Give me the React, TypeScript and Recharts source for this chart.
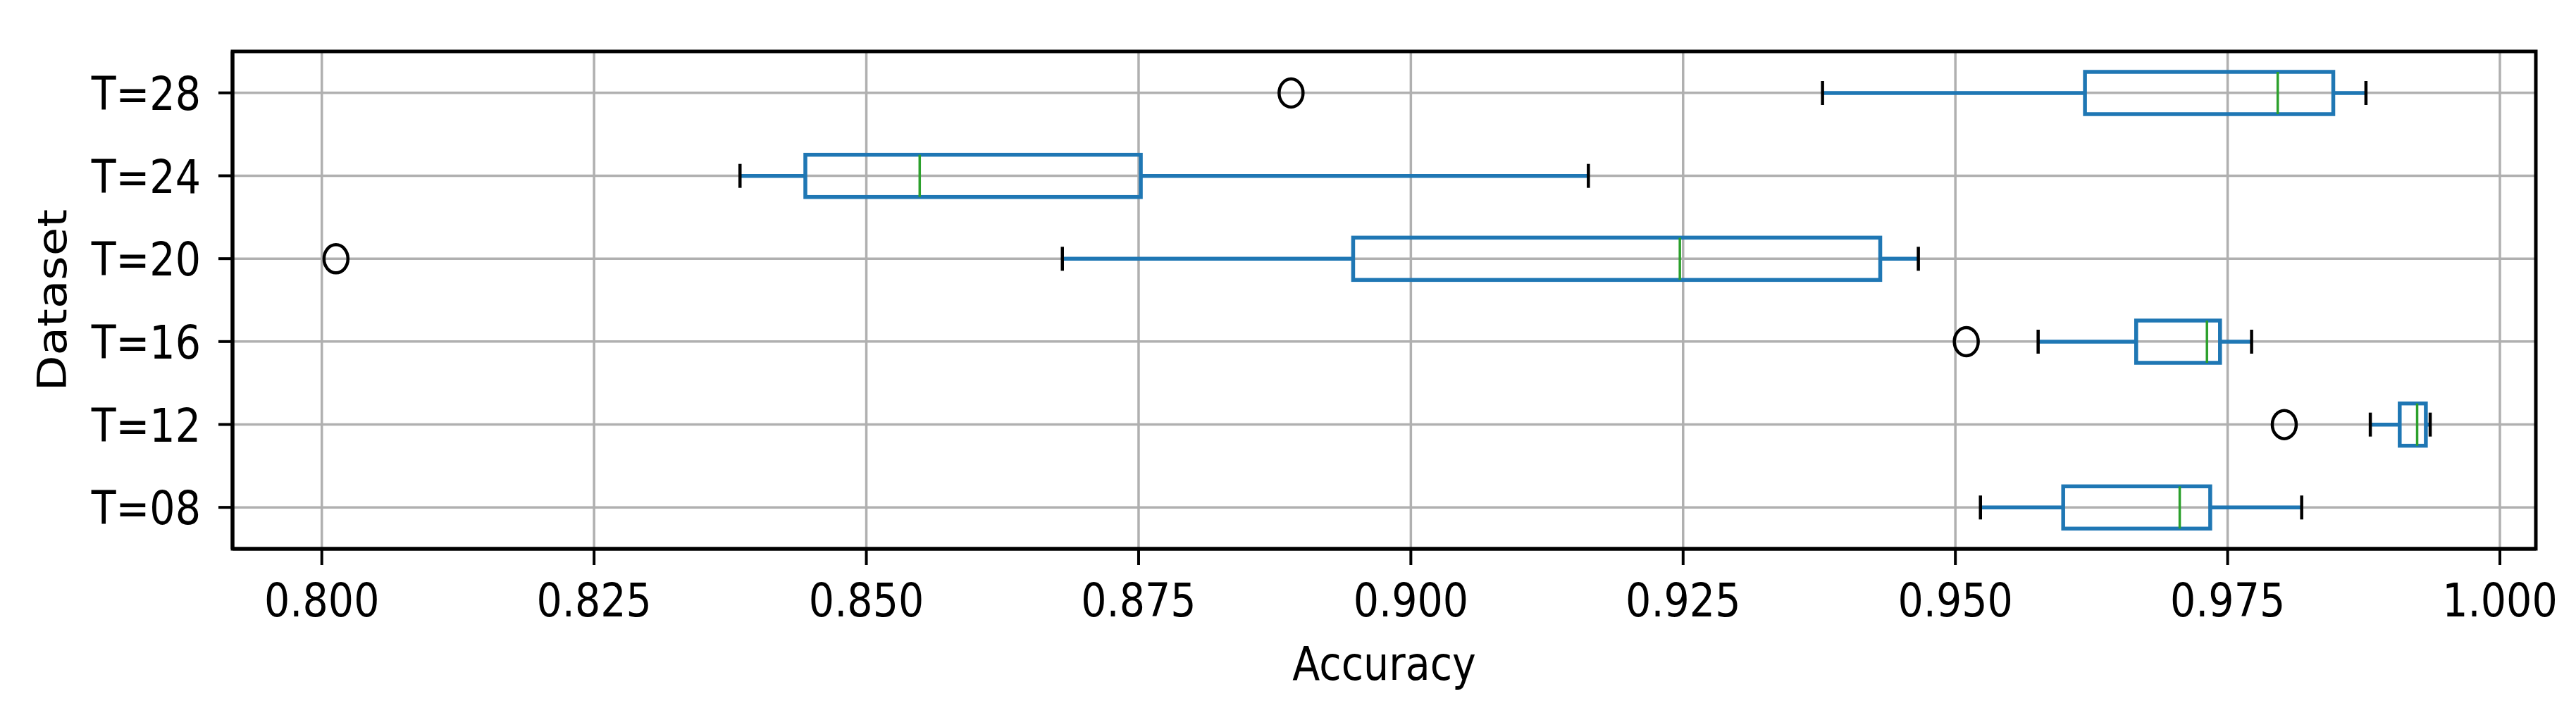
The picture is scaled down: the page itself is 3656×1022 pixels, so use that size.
import { ComposedChart, Bar, XAxis, YAxis, CartesianGrid, Label, ReferenceArea } from "recharts";

const categories = ["T=28", "T=24", "T=20", "T=16", "T=12", "T=08"];
const whiskerLow = [0.9378, 0.8384, 0.868, 0.9576, 0.9881, 0.9523];
const q1 = [0.9619, 0.8444, 0.8947, 0.9666, 0.9908, 0.9599];
const median = [0.9796, 0.8549, 0.9247, 0.9731, 0.9924, 0.9706];
const q3 = [0.9847, 0.8752, 0.9431, 0.9743, 0.9932, 0.9734];
const whiskerHigh = [0.9877, 0.9163, 0.9466, 0.9772, 0.9936, 0.9818];
const outliers = [[0.889], [], [0.8013], [0.951], [0.9802], []];
const xTicks = [0.8, 0.825, 0.85, 0.875, 0.9, 0.925, 0.95, 0.975, 1.0];
const xDomain = [0.7918, 1.0033];

const rows = categories.map((name, i) => ({
  name,
  lo: whiskerLow[i],
  q1: q1[i],
  med: median[i],
  q3: q3[i],
  hi: whiskerHigh[i],
  fliers: outliers[i],
}));

const BLUE = "#1f77b4";
const GREEN = "#2ca02c";
const FONT = "DejaVu Sans, sans-serif";
const SQUEEZE = "scale(0.865,1)";

function BoxShape(props: any) {
  const { x, y, width, height, payload } = props;
  const px = (v: number) => x + ((v - payload.lo) / (payload.hi - payload.lo)) * width;
  const cy = y + height / 2;
  const cap = 17;
  return (
    <g>
      <rect
        x={px(payload.q1)}
        y={y}
        width={px(payload.q3) - px(payload.q1)}
        height={height}
        fill="none"
        stroke={BLUE}
        strokeWidth={5.5}
      />
      <line x1={px(payload.med)} x2={px(payload.med)} y1={y} y2={y + height} stroke={GREEN} strokeWidth={3.5} />
      <line x1={px(payload.lo)} x2={px(payload.q1)} y1={cy} y2={cy} stroke={BLUE} strokeWidth={5.5} />
      <line x1={px(payload.q3)} x2={px(payload.hi)} y1={cy} y2={cy} stroke={BLUE} strokeWidth={5.5} />
      <line x1={px(payload.lo)} x2={px(payload.lo)} y1={cy - cap} y2={cy + cap} stroke="#000" strokeWidth={4.5} />
      <line x1={px(payload.hi)} x2={px(payload.hi)} y1={cy - cap} y2={cy + cap} stroke="#000" strokeWidth={4.5} />
      {payload.fliers.map((v: number, i: number) => (
        <ellipse key={i} cx={px(v)} cy={cy} rx={17} ry={20} fill="none" stroke="#000" strokeWidth={4.5} />
      ))}
    </g>
  );
}

function XTick({ x, y, payload }: any) {
  return (
    <g transform={`translate(${x},${y})`}>
      <text transform={SQUEEZE} textAnchor="middle" y={73} fontSize={66} fontFamily={FONT} fill="#000">
        {Number(payload.value).toFixed(3)}
      </text>
    </g>
  );
}

function YTick({ x, y, payload }: any) {
  return (
    <g transform={`translate(${x},${y})`}>
      <text transform={SQUEEZE} textAnchor="end" y={24} fontSize={66} fontFamily={FONT} fill="#000">
        {payload.value}
      </text>
    </g>
  );
}

function XTitle({ viewBox }: any) {
  const cx = viewBox.x + viewBox.width / 2;
  return (
    <g transform={`translate(${cx},${viewBox.y + 186})`}>
      <text transform={SQUEEZE} textAnchor="middle" fontSize={66} fontFamily={FONT} fill="#000">
        Accuracy
      </text>
    </g>
  );
}

function YTitle({ viewBox }: any) {
  const cy = viewBox.y + viewBox.height / 2;
  return (
    <g transform={`translate(94,${cy}) ${SQUEEZE} rotate(-90)`}>
      <text textAnchor="middle" fontSize={66} fontFamily={FONT} fill="#000">
        Dataset
      </text>
    </g>
  );
}

export default function App() {
  return (
    <div style={{ width: 3656, height: 1022, background: "#fff" }}>
      <style>{"body{margin:0}"}</style>
      <ComposedChart
        width={3656}
        height={1022}
        layout="vertical"
        data={rows}
        margin={{ top: 73, right: 57, bottom: 0, left: 0 }}
      >
        <CartesianGrid stroke="#b0b0b0" strokeWidth={3.5} />
        <XAxis
          type="number"
          domain={xDomain}
          allowDataOverflow
          ticks={xTicks}
          interval={0}
          height={243}
          tickSize={23}
          tickMargin={0}
          tick={<XTick />}
          tickLine={{ stroke: "#000", strokeWidth: 4 }}
          axisLine={{ stroke: "#000", strokeWidth: 5 }}
        >
          <Label content={<XTitle />} />
        </XAxis>
        <YAxis
          type="category"
          dataKey="name"
          width={330}
          tickSize={20}
          tickMargin={25}
          tick={<YTick />}
          tickLine={{ stroke: "#000", strokeWidth: 4 }}
          axisLine={{ stroke: "#000", strokeWidth: 5 }}
        >
          <Label content={<YTitle />} />
        </YAxis>
        <Bar
          dataKey={(d: any) => [d.lo, d.hi]}
          barSize={60}
          shape={<BoxShape />}
          isAnimationActive={false}
        />
        {/* plot frame */}
        <ReferenceArea
          x1={xDomain[0]}
          x2={xDomain[1]}
          fill="none"
          fillOpacity={0}
          stroke="#000"
          strokeWidth={5}
          ifOverflow="visible"
        />
      </ComposedChart>
    </div>
  );
}
